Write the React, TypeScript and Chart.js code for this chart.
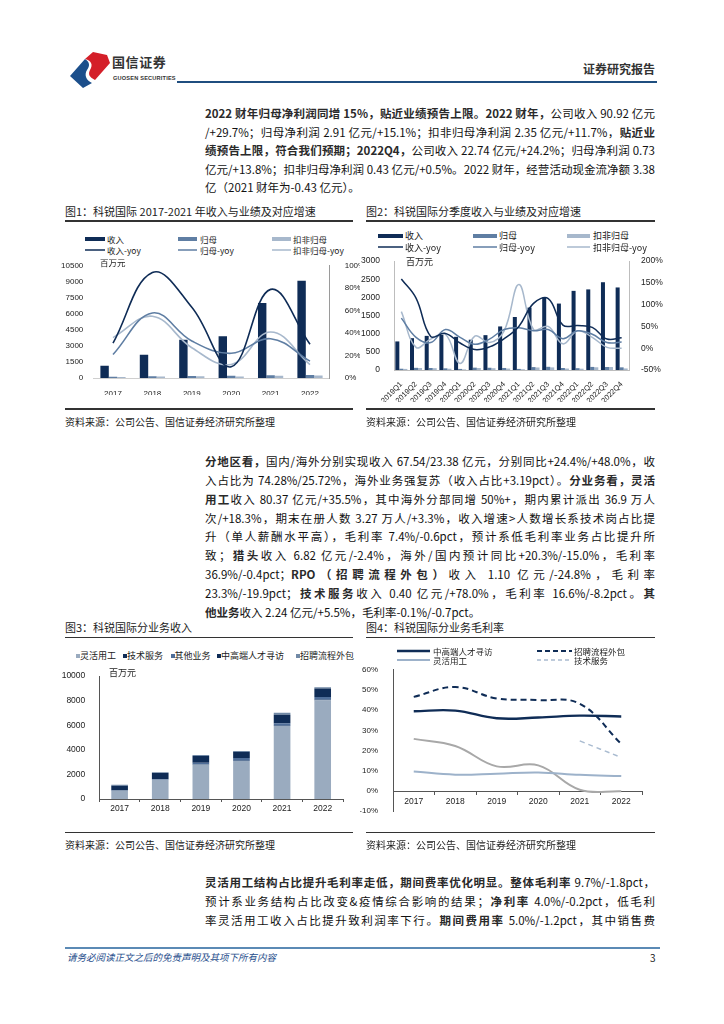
import React, { useEffect, useRef } from "react";
import { Chart, registerables } from "chart.js";

Chart.register(...registerables);

// ---------- colours ----------
const NAVY = "#0f2c56";
const MID = "#5f7ea3";
const LIGHT = "#a7b8cc";
const GRAY = "#a8a8a8";
const FLEX = "#9aabbf";
const OTHER = "#4f6e99";
const RPOC = "#7189a6";

// ---------- Fig 1 data (百万元 / yoy) ----------
const years = ["2017", "2018", "2019", "2020", "2021", "2022"];
const revenue = [1150, 2180, 3570, 3910, 7010, 9092];
const netProfit = [110, 157, 196, 213, 253, 291];
const deductedProfit = [92, 135, 168, 150, 210, 235];
const revenueYoy = [0.31, 0.94, 0.63, 0.1, 0.79, 0.3];
const netProfitYoy = [0.21, 0.58, 0.33, 0.22, 0.35, 0.15];
const deductedYoy = [0.36, 0.55, 0.27, 0.12, 0.41, 0.12];

// ---------- Fig 2 data ----------
const quarters = [
  "2019Q1", "2019Q2", "2019Q3", "2019Q4",
  "2020Q1", "2020Q2", "2020Q3", "2020Q4",
  "2021Q1", "2021Q2", "2021Q3", "2021Q4",
  "2022Q1", "2022Q2", "2022Q3", "2022Q4",
];
const qRevenue = [787, 877, 940, 966, 914, 835, 960, 1200, 1460, 1720, 2000, 1830, 2180, 2220, 2418, 2274];
const qNetProfit = [35, 60, 55, 46, 30, 65, 62, 56, 30, 80, 88, 55, 50, 85, 83, 73];
const qDeducted = [30, 55, 50, 35, 18, 55, 50, 40, 22, 70, 72, 40, 36, 75, 82, 43];
const qRevenueYoy = [1.59, 1.15, 0.27, 0.34, 0.12, -0.03, 0.03, 0.22, 0.5, 1.03, 1.14, 0.53, 0.52, 0.48, 0.21, 0.24];
const qNetProfitYoy = [0.69, 0.25, 0.13, 0.43, 0.25, 0.09, 0.21, 0.43, 0.47, 0.4, 0.43, 0.22, 0.4, 0.32, 0.13, 0.14];
const qDeductedYoy = [0.84, 0.02, 0.21, 0.32, -0.35, 0.28, 0.13, 0.4, 1.46, 0.43, 0.5, 0.1, 0.4, 0.25, 0.02, 0.0];

// ---------- Fig 3 data (百万元) ----------
const segFlexible = [680, 1560, 2790, 3100, 5930, 8037];
const segTech = [10, 10, 15, 20, 22, 40];
const segOther = [50, 60, 150, 220, 212, 224];
const segHeadhunting = [340, 480, 540, 480, 699, 682];
const segRpo = [70, 70, 75, 90, 146, 110];

// ---------- Fig 4 data (gross margin) ----------
const gmHeadhunting = [0.395, 0.398, 0.36, 0.364, 0.373, 0.369];
const gmRpo = [0.466, 0.515, 0.458, 0.45, 0.432, 0.233];
const gmFlexible = [0.097, 0.081, 0.086, 0.092, 0.08, 0.074];
const gmOther = [0.258, 0.223, 0.122, 0.127, 0.006, -0.001];
const gmTech = [null, null, null, null, 0.248, 0.166];

const FONT = '"Noto Sans CJK SC", "Noto Sans", sans-serif';
const tickFont = { family: '"Liberation Sans", Arial, sans-serif', size: 8 };
const TICK_COLOR = "#222";
const pct = (v: any) => `${Math.round(Number(v) * 100)}%`;
const plain = (v: any) => String(Math.round(Number(v)));
const fixW = (w: number) => (s: any) => { s.width = w; };
const fixH = (h: number) => (s: any) => { s.height = h; };

const baseOptions = {
  responsive: false,
  maintainAspectRatio: false,
  animation: false,
  devicePixelRatio: 1,
  plugins: { legend: { display: false }, tooltip: { enabled: false } },
};

function fig1Config(): any {
  const line = (label: string, data: number[], color: string) => ({
    type: "line", label, data, yAxisID: "y1", borderColor: color, borderWidth: 1.6,
    pointRadius: 0, tension: 0.4, order: 0, fill: false,
  });
  const bar = (label: string, data: number[], color: string) => ({
    type: "bar", label, data, yAxisID: "y", backgroundColor: color,
    categoryPercentage: 0.64, barPercentage: 1, order: 1,
  });
  return {
    type: "bar",
    data: {
      labels: years,
      datasets: [
        line("收入-yoy", revenueYoy, NAVY),
        line("归母-yoy", netProfitYoy, MID),
        line("扣非归母-yoy", deductedYoy, LIGHT),
        bar("收入", revenue, NAVY),
        bar("归母", netProfit, MID),
        bar("扣非归母", deductedProfit, LIGHT),
      ],
    },
    options: {
      ...baseOptions,
      layout: { padding: { top: 7.7, left: 0, right: 0, bottom: 0 } },
      scales: {
        x: {
          grid: { display: false },
          border: { display: true, color: "#cfcfcf" },
          ticks: { font: tickFont, color: TICK_COLOR, padding: 3, maxRotation: 0 },
          afterFit: fixH(17),
        },
        y: {
          position: "left", min: 0, max: 10500,
          ticks: { stepSize: 1500, font: tickFont, color: TICK_COLOR, padding: 2, callback: plain },
          grid: { display: false }, border: { display: false },
          afterFit: fixW(33.3),
        },
        y1: {
          position: "right", min: 0, max: 1,
          ticks: { stepSize: 0.2, font: tickFont, color: TICK_COLOR, padding: 7, callback: pct },
          grid: { display: false }, border: { display: true, color: "#9a9a9a" },
          afterFit: fixW(30.3),
        },
      },
    },
  };
}

function fig2Config(): any {
  const line = (label: string, data: number[], color: string) => ({
    type: "line", label, data, yAxisID: "y1", borderColor: color, borderWidth: 1.5,
    pointRadius: 0, tension: 0.4, order: 0, fill: false,
  });
  const bar = (label: string, data: number[], color: string) => ({
    type: "bar", label, data, yAxisID: "y", backgroundColor: color,
    categoryPercentage: 0.82, barPercentage: 1, order: 1,
  });
  return {
    type: "bar",
    data: {
      labels: quarters,
      datasets: [
        line("收入-yoy", qRevenueYoy, NAVY),
        line("归母-yoy", qNetProfitYoy, MID),
        line("扣非归母-yoy", qDeductedYoy, LIGHT),
        bar("收入", qRevenue, NAVY),
        bar("归母", qNetProfit, MID),
        bar("扣非归母", qDeducted, LIGHT),
      ],
    },
    options: {
      ...baseOptions,
      layout: { padding: { top: 8.3, left: 0, right: 0, bottom: 0 } },
      scales: {
        x: {
          grid: { display: false },
          border: { display: true, color: "#bdbdbd" },
          ticks: {
            font: { ...tickFont, size: 7.5 }, color: TICK_COLOR, padding: 2,
            minRotation: 45, maxRotation: 45, autoSkip: false,
          },
          afterFit: fixH(32),
        },
        y: {
          position: "left", min: 0, max: 3000,
          ticks: { stepSize: 500, font: { ...tickFont, size: 8.5 }, color: TICK_COLOR, padding: 6, callback: plain },
          grid: { display: false }, border: { display: true, color: "#bdbdbd" },
          afterFit: fixW(34),
        },
        y1: {
          position: "right", min: -0.5, max: 2,
          ticks: { stepSize: 0.5, font: { ...tickFont, size: 8.5 }, color: TICK_COLOR, padding: 4, callback: pct },
          grid: { display: false }, border: { display: true, color: "#bdbdbd" },
          afterFit: fixW(41),
        },
      },
    },
  };
}

function fig3Config(): any {
  const bar = (label: string, data: number[], color: string) => ({
    label, data, backgroundColor: color, categoryPercentage: 0.41, barPercentage: 1,
  });
  return {
    type: "bar",
    data: {
      labels: years,
      datasets: [
        bar("灵活用工", segFlexible, FLEX),
        bar("技术服务", segTech, NAVY),
        bar("其他业务", segOther, OTHER),
        bar("中高端人才寻访", segHeadhunting, NAVY),
        bar("招聘流程外包", segRpo, RPOC),
      ],
    },
    options: {
      ...baseOptions,
      layout: { padding: { top: 7.3, left: 0, right: 12, bottom: 0 } },
      scales: {
        x: {
          stacked: true,
          grid: { display: true, drawOnChartArea: false, drawTicks: true, tickLength: 3, offset: true, color: "#555" },
          border: { display: true, color: "#555" },
          ticks: { font: { ...tickFont, size: 8.5 }, color: TICK_COLOR, padding: 2, maxRotation: 0 },
          afterFit: fixH(16),
        },
        y: {
          stacked: true, min: 0, max: 10000,
          ticks: { stepSize: 2000, font: { ...tickFont, size: 8.5 }, color: TICK_COLOR, padding: 6, callback: plain },
          grid: { display: false }, border: { display: true, color: "#555" },
          afterFit: fixW(39.3),
        },
      },
    },
  };
}

function fig4Config(): any {
  const line = (label: string, data: (number | null)[], color: string, width: number, dash: number[] = []) => ({
    label, data, borderColor: color, borderWidth: width, borderDash: dash,
    pointRadius: 0, tension: 0.4, fill: false, spanGaps: false,
  });
  return {
    type: "line",
    data: {
      labels: years,
      datasets: [
        line("中高端人才寻访", gmHeadhunting, NAVY, 2.4),
        line("招聘流程外包", gmRpo, NAVY, 2, [6, 4]),
        line("灵活用工", gmFlexible, "#9db2ca", 2),
        line("其他业务", gmOther, GRAY, 2),
        line("技术服务", gmTech, "#a9bbd0", 1.5, [5, 4]),
      ],
    },
    options: {
      ...baseOptions,
      layout: { padding: { top: 7, left: 0, right: 23, bottom: 4 } },
      scales: {
        x: {
          position: { y: 0 },
          offset: true,
          grid: { display: true, drawOnChartArea: false, drawTicks: true, tickLength: 3, offset: true, color: "#555" },
          border: { display: true, color: "#555" },
          ticks: { font: { ...tickFont, size: 8.5 }, color: TICK_COLOR, padding: 3, maxRotation: 0 },
        },
        y: {
          min: -0.1, max: 0.6,
          ticks: { stepSize: 0.1, font: tickFont, color: TICK_COLOR, padding: 7, callback: pct },
          grid: { display: false }, border: { display: true, color: "#555" },
          afterFit: fixW(33),
        },
      },
    },
  };
}

function ChartBox({ left, top, width, height, build }: any) {
  const ref = useRef<HTMLCanvasElement>(null);
  useEffect(() => {
    const chart = new Chart(ref.current as HTMLCanvasElement, build());
    return () => chart.destroy();
  }, []);
  return (
    <canvas
      ref={ref}
      width={width}
      height={height}
      style={{ position: "absolute", left, top, width, height }}
    />
  );
}

function Txt({ x, y, size, children, color = "#222", weight = 400, style = {} }: any) {
  const lh = Math.round(size * 1.4);
  return (
    <div
      style={{
        position: "absolute", left: x, top: y - lh / 2, fontSize: size, lineHeight: `${lh}px`,
        color, fontWeight: weight, whiteSpace: "nowrap", fontFamily: FONT, ...style,
      }}
    >
      {children}
    </div>
  );
}

function HLine({ x1, x2, y, color = "#333", h = 1.5 }: any) {
  return <div style={{ position: "absolute", left: x1, top: y - h / 2, width: x2 - x1, height: h, background: color }} />;
}

function SwLine({ x, y, w, color, width = 1.5, dash }: any) {
  return (
    <svg style={{ position: "absolute", left: x, top: y - 4 }} width={w} height={8}>
      <line x1={0} y1={4} x2={w} y2={4} stroke={color} strokeWidth={width} strokeDasharray={dash} />
    </svg>
  );
}

function SwBox({ x, y, w, h, color }: any) {
  return <div style={{ position: "absolute", left: x, top: y - h / 2, width: w, height: h, background: color }} />;
}

type Seg = [string, boolean];
const para1: Seg[][] = [
  [["2022 财年归母净利润同增 15%，贴近业绩预告上限。2022 财年，", true], ["公司收入 90.92 亿元", false]],
  [["/+29.7%；归母净利润 2.91 亿元/+15.1%；扣非归母净利润 2.35 亿元/+11.7%，", false], ["贴近业", true]],
  [["绩预告上限，符合我们预期；2022Q4，", true], ["公司收入 22.74 亿元/+24.2%；归母净利润 0.73", false]],
  [["亿元/+13.8%；扣非归母净利润 0.43 亿元/+0.5%。2022 财年，经营活动现金流净额 3.38", false]],
  [["亿（2021 财年为-0.43 亿元）。", false]],
];
const para2: Seg[][] = [
  [["分地区看，", true], ["国内/海外分别实现收入 67.54/23.38 亿元，分别同比+24.4%/+48.0%，收", false]],
  [["入占比为 74.28%/25.72%，海外业务强复苏（收入占比+3.19pct）。", false], ["分业务看，灵活", true]],
  [["用工", true], ["收入 80.37 亿元/+35.5%，其中海外分部同增 50%+，期内累计派出 36.9 万人", false]],
  [["次/+18.3%，期末在册人数 3.27 万人/+3.3%，收入增速>人数增长系技术岗占比提", false]],
  [["升（单人薪酬水平高），毛利率 7.4%/-0.6pct，预计系低毛利率业务占比提升所", false]],
  [["致；", false], ["猎头", true], ["收入 6.82 亿元/-2.4%，海外/国内预计同比+20.3%/-15.0%，毛利率", false]],
  [["36.9%/-0.4pct；", false], ["RPO（招聘流程外包）", true], ["收入 1.10 亿元/-24.8%，毛利率", false]],
  [["23.3%/-19.9pct；", false], ["技术服务", true], ["收入 0.40 亿元/+78.0%，毛利率 16.6%/-8.2pct。", false], ["其", true]],
  [["他业务", true], ["收入 2.24 亿元/+5.5%，毛利率-0.1%/-0.7pct。", false]],
];
const para3: Seg[][] = [
  [["灵活用工结构占比提升毛利率走低，期间费率优化明显。整体毛利率", true], [" 9.7%/-1.8pct，", false]],
  [["预计系业务结构占比改变&疫情综合影响的结果；", false], ["净利率", true], [" 4.0%/-0.2pct，低毛利", false]],
  [["率灵活用工收入占比提升致利润率下行。", false], ["期间费用率", true], [" 5.0%/-1.2pct，其中销售费", false]],
];

function Paragraph({ lines, y0, step, lastLeft }: any) {
  return (
    <>
      {lines.map((segs: Seg[], i: number) => {
        const justify = !(lastLeft && i === lines.length - 1);
        return (
          <div
            key={i}
            style={{
              position: "absolute", left: 205, top: y0 + i * step - 9, width: 450, height: 18,
              lineHeight: "18px", fontSize: 11.5, color: "#111", fontFamily: FONT, whiteSpace: "nowrap",
              textAlign: justify ? "justify" : "left", textAlignLast: justify ? "justify" : "left",
            } as any}
          >
            {segs.map((s, j) => (
              <span key={j} style={{ fontWeight: s[1] ? 700 : 400, color: s[1] ? "#2a2a2a" : "#111" }}>{s[0]}</span>
            ))}
          </div>
        );
      })}
    </>
  );
}

function Header() {
  return (
    <>
      <svg style={{ position: "absolute", left: 68, top: 49 }} width={46} height={40}>
        <path d="M2,27 L17,10 C22,13 22,17 19,21 C16,26 18,31 24,34 L15,39 Z" fill="#1c4f8b" />
        <path d="M17,10 L25,3 L39,6 L42,14 L27,31 C21,28 20,25 22,21 C25,16 24,12 17,10 Z" fill="#d41f29" />
      </svg>
      <Txt x={112} y={62} size={13} color="#333" weight={700} style={{ letterSpacing: 0.6 }}>国信证券</Txt>
      <Txt x={113} y={78} size={5.6} color="#333" weight={700} style={{ fontFamily: '"Liberation Sans", Arial, sans-serif', letterSpacing: 0.2 }}>GUOSEN SECURITIES</Txt>
      <HLine x1={177} x2={657} y={81.5} color="#1f4e7f" h={2} />
      <Txt x={583} y={68} size={12} color="#333" weight={700}>证券研究报告</Txt>
    </>
  );
}

export default function App() {
  const src = "资料来源：公司公告、国信证券经济研究所整理";
  return (
    <div style={{ position: "absolute", left: 0, top: 0, width: 724, height: 1024, background: "#fff", overflow: "hidden", fontFamily: FONT }}>
      <Header />
      <Paragraph lines={para1} y0={113} step={18.5} lastLeft />

      {/* Fig 1 */}
      <Txt x={65} y={211} size={11}>图1：科锐国际 2017-2021 年收入与业绩及对应增速</Txt>
      <HLine x1={65} x2={353} y={221} />
      <SwBox x={85} y={239} w={20} h={3.5} color={NAVY} />
      <Txt x={107} y={239} size={8.5}>收入</Txt>
      <SwBox x={178} y={239} w={19} h={3.5} color={MID} />
      <Txt x={200} y={239} size={8.5}>归母</Txt>
      <SwBox x={272} y={239} w={19} h={3.5} color={LIGHT} />
      <Txt x={293} y={239} size={8.5}>扣非归母</Txt>
      <SwLine x={85} y={250} w={20} color={NAVY} />
      <Txt x={107} y={250} size={8.5}>收入-yoy</Txt>
      <SwLine x={178} y={250} w={19} color={MID} />
      <Txt x={200} y={250} size={8.5}>归母-yoy</Txt>
      <SwLine x={272} y={250} w={19} color={LIGHT} />
      <Txt x={293} y={250} size={8.5}>扣非归母-yoy</Txt>
      <ChartBox left={60} top={254} width={300} height={141} build={fig1Config} />
      <Txt x={100} y={262} size={8.5}>百万元</Txt>
      <HLine x1={65} x2={353} y={409} />
      <Txt x={65} y={422} size={10}>{src}</Txt>

      {/* Fig 2 */}
      <Txt x={366} y={211} size={11}>图2：科锐国际分季度收入与业绩及对应增速</Txt>
      <HLine x1={366} x2={655} y={221} />
      <SwBox x={378} y={235.7} w={25} h={4} color={NAVY} />
      <Txt x={405} y={235.7} size={9}>收入</Txt>
      <SwBox x={473} y={235.7} w={24} h={4} color={MID} />
      <Txt x={499} y={235.7} size={9}>归母</Txt>
      <SwBox x={567} y={235.7} w={23} h={4} color={LIGHT} />
      <Txt x={593} y={235.7} size={9}>扣非归母</Txt>
      <SwLine x={378} y={247} w={25} color={NAVY} />
      <Txt x={405} y={247} size={9}>收入-yoy</Txt>
      <SwLine x={473} y={247} w={24} color={MID} />
      <Txt x={499} y={247} size={9}>归母-yoy</Txt>
      <SwLine x={567} y={247} w={23} color={LIGHT} />
      <Txt x={593} y={247} size={9}>扣非归母-yoy</Txt>
      <ChartBox left={360} top={250} width={310} height={152} build={fig2Config} />
      <Txt x={406} y={261} size={9}>百万元</Txt>
      <HLine x1={366} x2={655} y={409} />
      <Txt x={366} y={422} size={10}>{src}</Txt>

      <Paragraph lines={para2} y0={461} step={18.85} lastLeft />

      {/* Fig 3 */}
      <Txt x={65} y={627.3} size={11}>图3：科锐国际分业务收入</Txt>
      <HLine x1={65} x2={353} y={637.5} />
      <SwBox x={76} y={655.7} w={4} h={4} color={FLEX} />
      <Txt x={80} y={655.7} size={9}>灵活用工</Txt>
      <SwBox x={123} y={655.7} w={4} h={4} color={NAVY} />
      <Txt x={127} y={655.7} size={9}>技术服务</Txt>
      <SwBox x={170.5} y={655.7} w={4} h={4} color={OTHER} />
      <Txt x={174.5} y={655.7} size={9}>其他业务</Txt>
      <SwBox x={217} y={655.7} w={4} h={4} color={NAVY} />
      <Txt x={221} y={655.7} size={9}>中高端人才寻访</Txt>
      <SwBox x={296} y={655.7} w={4} h={4} color={RPOC} />
      <Txt x={300} y={655.7} size={9}>招聘流程外包</Txt>
      <ChartBox left={60} top={665} width={295} height={150} build={fig3Config} />
      <Txt x={109} y={672.5} size={9}>百万元</Txt>
      <HLine x1={65} x2={353} y={832.3} />
      <Txt x={65} y={845} size={10}>{src}</Txt>

      {/* Fig 4 */}
      <Txt x={366} y={627.3} size={11}>图4：科锐国际分业务毛利率</Txt>
      <HLine x1={366} x2={655} y={637.5} />
      <SwLine x={397} y={650.7} w={33} color={NAVY} width={2.5} />
      <Txt x={433} y={650.7} size={8.5}>中高端人才寻访</Txt>
      <SwLine x={537} y={650.7} w={35} color={NAVY} width={2} dash="5 3" />
      <Txt x={574} y={650.7} size={8.5}>招聘流程外包</Txt>
      <SwLine x={397} y={660} w={33} color="#9db2ca" width={1.8} />
      <Txt x={433} y={660} size={8.5}>灵活用工</Txt>
      <SwLine x={537} y={660} w={35} color="#a9bbd0" width={1.5} dash="4 3" />
      <Txt x={574} y={660} size={8.5}>技术服务</Txt>
      <ChartBox left={360} top={658} width={305} height={165} build={fig4Config} />
      <HLine x1={366} x2={655} y={832.3} />
      <Txt x={366} y={845} size={10}>{src}</Txt>

      <Paragraph lines={para3} y0={882} step={19} lastLeft={false} />

      {/* Footer */}
      <HLine x1={65} x2={660} y={948} color="#5b8ab5" h={1.2} />
      <Txt x={67} y={957.5} size={9.5} color="#1f4e8c" style={{ fontStyle: "italic" }}>请务必阅读正文之后的免责声明及其项下所有内容</Txt>
      <Txt x={650} y={957.5} size={10} color="#222">3</Txt>
    </div>
  );
}
